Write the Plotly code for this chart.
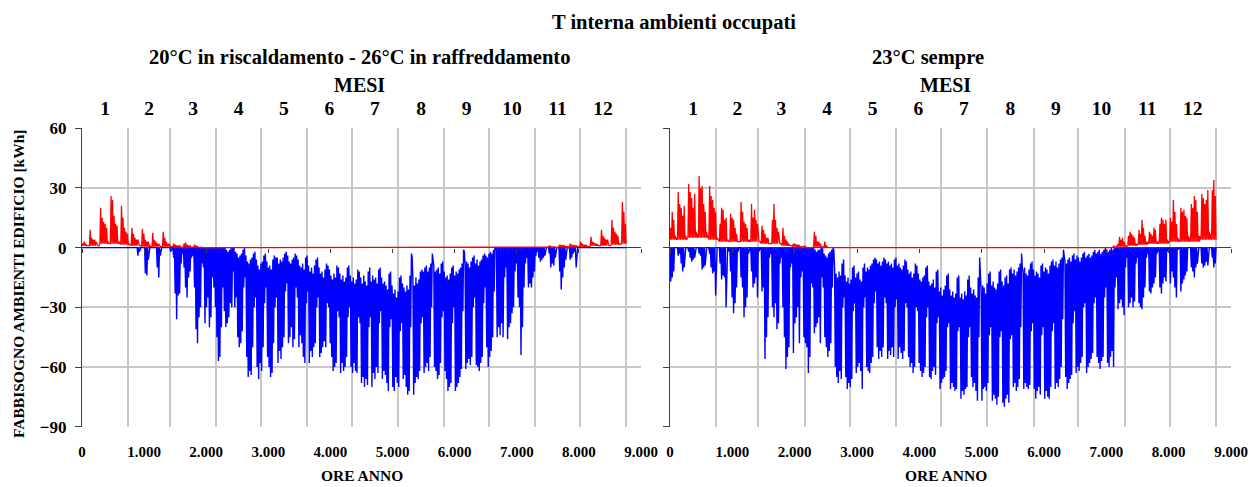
import numpy as np
import plotly.graph_objects as go

# ---------------- data ----------------
MONTH_DAYS = [31, 28, 31, 30, 31, 30, 31, 31, 30, 31, 30, 31]
MONTH_LABELS = ["1", "2", "3", "4", "5", "6", "7", "8", "9", "10", "11", "12"]
X_TICKS = [0, 1000, 2000, 3000, 4000, 5000, 6000, 7000, 8000, 9000]
X_TICK_LABELS = ["0", "1.000", "2.000", "3.000", "4.000", "5.000", "6.000", "7.000", "8.000", "9.000"]
Y_TICKS = [-90, -60, -30, 0, 30, 60]

# Daily peak values [kWh] (first line: days 1-5, then one line per week Mon-Sun)
# Panel 1: 20 C heating - 26 C cooling
HEAT_20_26 = [
    2, 3, 2, 1, 1,
    9, 5, 4, 4, 3, 1, 1,
    20, 15, 13, 12, 10, 3, 2,
    26, 24, 16, 12, 11, 3, 3,
    21, 15, 10, 8, 7, 2, 1,
    10, 7, 5, 4, 4, 1, 1,
    9.5, 7, 4, 3, 3, 1, 0.5,
    7.5, 4, 3, 2, 2, 0.5, 0.5,
    8, 5, 3, 2, 2, 0.5, 0.5,
    2, 1.5, 1, 1, 1, 0, 0,
    2, 2.5, 1.5, 1, 1, 0, 0,
    1.5, 1, 0.5, 0, 0, 0, 0,
    0, 0, 0, 0, 0, 0, 0,
    0, 0, 0, 0, 0, 0, 0,
    0, 0, 0, 0, 0, 0, 0,
    0, 0, 0, 0, 0, 0, 0,
    0, 0, 0, 0, 0, 0, 0,
    0, 0, 0, 0, 0, 0, 0,
    0, 0, 0, 0, 0, 0, 0,
    0, 0, 0, 0, 0, 0, 0,
    0, 0, 0, 0, 0, 0, 0,
    0, 0, 0, 0, 0, 0, 0,
    0, 0, 0, 0, 0, 0, 0,
    0, 0, 0, 0, 0, 0, 0,
    0, 0, 0, 0, 0, 0, 0,
    0, 0, 0, 0, 0, 0, 0,
    0, 0, 0, 0, 0, 0, 0,
    0, 0, 0, 0, 0, 0, 0,
    0, 0, 0, 0, 0, 0, 0,
    0, 0, 0, 0, 0, 0, 0,
    0, 0, 0, 0, 0, 0, 0,
    0, 0, 0, 0, 0, 0, 0,
    0, 0, 0, 0, 0, 0, 0,
    0, 0, 0, 0, 0, 0, 0,
    0, 0, 0, 0, 0, 0, 0,
    0, 0, 0, 0, 0, 0, 0,
    0, 0, 0, 0, 0, 0, 0,
    0, 0, 0, 0, 0, 0, 0,
    0, 0, 0, 0, 0, 0, 0,
    0, 0, 0, 0, 0, 0, 0,
    0, 0, 0, 0, 0, 0, 0,
    0, 0, 0, 0, 0, 0, 0,
    0, 0, 0, 0, 0, 0, 0,
    0, 0, 0, 0, 0, 0, 0,
    0, 0, 0, 0, 0, 0, 0,
    1, 0.5, 0.5, 0.5, 0.5, 0, 0,
    1.5, 1, 1, 1, 0.5, 0, 0,
    2, 1.5, 1, 1, 1, 0.5, 0.5,
    3, 2, 1.5, 1.5, 1, 0.5, 0.5,
    5.5, 3, 2.5, 2, 2, 1, 1,
    9, 6, 5, 4, 4, 1, 1,
    14, 10, 8, 7, 6, 2, 2,
    23, 18, 12,
]
# night (base) level per week
HEAT_20_26_NIGHT = [1, 1, 2, 2, 1.5, 1, 0.5, 0.5, 0.5, 0.3, 0.3, 0.2,
                    0, 0, 0, 0, 0, 0, 0, 0, 0, 0, 0, 0, 0, 0, 0, 0, 0,
                    0, 0, 0, 0, 0, 0, 0, 0, 0, 0, 0, 0, 0, 0, 0, 0,
                    0.3, 0.5, 0.5, 0.5, 1, 1, 1.5, 2]

COOL_20_26 = [
    0, 0, 0, 0, 0,
    0, 0, 0, 0, 0, 0, 0,
    0, 0, 0, 0, 0, 0, 0,
    0, 0, 0, 0, 0, 0, 0,
    0, 0, 0, 0, 0, 0, 0,
    0, 0, 0, 0, -4, -2, 0,
    0, 0, -13, -14, -6, 0, 0,
    0, 0, 0, -10, -15, -4, 0,
    0, 0, 0, 0, 0, -2, 0,
    -5, -23, -36, -24, -23, -8, -3,
    -10, -20, -25, -15, -12, -5, -4,
    -20, -41, -48, -35, -30, -8, -10,
    -38, -30, -25, -40, -35, -15, -20,
    -30, -45, -57, -55, -40, -20, -32,
    -40, -38, -35, -28, -30, -12, -30,
    -25, -45, -50, -48, -42, -20, -15,
    -55, -65, -62, -64, -50, -30, -25,
    -60, -66, -58, -62, -50, -28, -20,
    -55, -60, -65, -63, -48, -30, -25,
    -58, -52, -56, -50, -45, -22, -18,
    -48, -45, -40, -50, -46, -20, -25,
    -50, -44, -48, -55, -58, -28, -22,
    -58, -52, -55, -50, -48, -30, -25,
    -55, -53, -50, -47, -50, -28, -30,
    -48, -55, -62, -60, -58, -32, -35,
    -63, -58, -62, -60, -55, -35, -30,
    -60, -63, -58, -62, -63, -35, -38,
    -68, -65, -70, -66, -69, -40, -35,
    -70, -63, -66, -60, -63, -38, -32,
    -66, -62, -64, -68, -72, -40, -36,
    -70, -72, -65, -68, -70, -42, -38,
    -66, -64, -70, -74, -72, -40, -5,
    -74, -68, -65, -66, -62, -38, -35,
    -63, -60, -58, -62, -55, -30, -6,
    -60, -62, -66, -64, -58, -35, -32,
    -62, -66, -72, -70, -68, -38, -30,
    -72, -70, -68, -65, -61, -32, -2,
    -61, -58, -56, -59, -55, -30, -25,
    -59, -60, -62, -58, -55, -28, -20,
    -50, -60, -55, -52, -45, -22, -1,
    -45, -40, -44, -38, -45, -15, -10,
    -46, -40, -38, -33, -30, -12, -8,
    -25, -30, -54, -40, -20, -8, -5,
    -20, -18, -20, -15, -12, -4, -2,
    -5, -7, -6, -5, -4, 0, 0,
    -3, -10, -8, -9, -5, 0, 0,
    -12, -21, -15, -10, -6, 0, 0,
    -6, -5, -3, -2, -10, 0, 0,
    0, 0, 0, 0, 0, 0, 0,
    0, 0, 0, 0, 0, 0, 0,
    0, 0, 0, 0, 0, 0, 0,
    0, 0, 0, 0, 0, 0, 0,
    0, 0, 0,
]
# night (base) level per day
COOL_20_26_NIGHT = [
    0, 0, 0, 0, 0,
    0, 0, 0, 0, 0, 0, 0,
    0, 0, 0, 0, 0, 0, 0,
    0, 0, 0, 0, 0, 0, 0,
    0, 0, 0, 0, 0, 0, 0,
    0, 0, 0, 0, 0, 0, 0,
    0, 0, 0, 0, 0, 0, 0,
    0, 0, 0, 0, 0, 0, 0,
    0, 0, 0, 0, 0, 0, 0,
    0, 0, 0, 0, 0, 0, 0,
    0, 0, 0, 0, 0, 0, 0,
    0, 0, 0, 0, 0, 0, 0,
    0, 0, 0, 0, 0, 0, 0,
    0, 0, 0, 0, 0, 0, 0,
    0, -1, -2, -1, 0, 0, 0,
    -2, -3, -5, -4, -3, -1, 0,
    -4, -7, -8, -6, -5, -3, -2,
    -6, -9, -11, -8, -7, -4, -3,
    -7, -10, -9, -11, -6, -4, -5,
    -5, -8, -6, -7, -5, -3, -2,
    -4, -7, -8, -6, -5, -3, -4,
    -6, -9, -10, -8, -11, -5, -4,
    -9, -12, -10, -13, -9, -6, -5,
    -10, -13, -12, -15, -11, -8, -9,
    -11, -14, -16, -13, -15, -9, -10,
    -13, -16, -14, -17, -15, -10, -9,
    -14, -17, -15, -18, -16, -11, -12,
    -15, -18, -14, -17, -19, -12, -10,
    -17, -14, -16, -15, -18, -11, -10,
    -15, -18, -17, -19, -21, -13, -12,
    -19, -23, -21, -25, -22, -15, -14,
    -18, -20, -22, -19, -21, -14, -3,
    -17, -19, -15, -18, -16, -12, -11,
    -12, -10, -9, -12, -10, -8, -3,
    -9, -12, -11, -10, -13, -8, -7,
    -12, -15, -14, -16, -13, -10, -9,
    -14, -12, -13, -11, -10, -8, -1,
    -9, -7, -8, -10, -7, -5, -4,
    -8, -6, -9, -7, -6, -4, -3,
    -4, -5, -3, -2, -3, -1, 0,
    0, 0, 0, 0, 0, 0, 0,
    0, 0, 0, 0, 0, 0, 0,
    0, 0, 0, 0, 0, 0, 0,
    0, 0, 0, 0, 0, 0, 0,
    0, 0, 0, 0, 0, 0, 0,
    0, 0, 0, 0, 0, 0, 0,
    0, 0, 0, 0, 0, 0, 0,
    0, 0, 0, 0, 0, 0, 0,
    0, 0, 0, 0, 0, 0, 0,
    0, 0, 0, 0, 0, 0, 0,
    0, 0, 0, 0, 0, 0, 0,
    0, 0, 0, 0, 0, 0, 0,
    0, 0, 0,
]

# Panel 2: 23 C always
HEAT_23 = [
    10, 18, 14, 6, 5,
    28, 22, 20, 16, 21, 6, 5,
    32, 28, 25, 20, 27, 8, 7,
    36, 30, 31, 22, 18, 8, 6,
    31, 26, 24, 20, 18, 5, 4,
    12, 20, 19, 14, 15, 4, 3,
    17, 15, 14, 10, 7, 3, 3,
    23, 18, 13, 12, 10, 4, 4,
    22, 15, 19, 14, 12, 3, 3,
    11, 9, 7, 5, 5, 2, 2,
    14, 22, 14, 10, 8, 2, 2,
    10, 6, 4, 3, 2, 1, 1,
    2, 2, 1.5, 1.5, 1, 0, 0,
    1, 0.5, 0, 0, 0, 0, 0,
    8, 6, 3, 3, 2, 0, 0,
    3, 1, 0, 0, 0, 0, 0,
    0, 0, 0, 0, 0, 0, 0,
    0, 0, 0, 0, 0, 0, 0,
    0, 0, 0, 0, 0, 0, 0,
    0, 0, 0, 0, 0, 0, 0,
    0, 0, 0, 0, 0, 0, 0,
    0, 0, 0, 0, 0, 0, 0,
    0, 0, 0, 0, 0, 0, 0,
    0, 0, 0, 0, 0, 0, 0,
    0, 0, 0, 0, 0, 0, 0,
    0, 0, 0, 0, 0, 0, 0,
    0, 0, 0, 0, 0, 0, 0,
    0, 0, 0, 0, 0, 0, 0,
    0, 0, 0, 0, 0, 0, 0,
    0, 0, 0, 0, 0, 0, 0,
    0, 0, 0, 0, 0, 0, 0,
    0, 0, 0, 0, 0, 0, 0,
    0, 0, 0, 0, 0, 0, 0,
    0, 0, 0, 0, 0, 0, 0,
    0, 0, 0, 0, 0, 0, 0,
    0, 0, 0, 0, 0, 0, 0,
    0, 0, 0, 0, 0, 0, 0,
    0, 0, 0, 0, 0, 0, 0,
    0, 0, 0, 0, 0, 0, 0,
    0, 0, 0, 0, 0, 0, 0,
    0, 0, 0, 0, 0, 0, 0,
    0, 0, 0, 0, 0, 0, 0,
    0, 0, 0, 0, 1, 0, 1,
    2, 5.5, 4, 5, 3, 1, 1,
    6, 8, 7, 6, 5, 2, 2,
    9, 7, 14, 10, 6, 3, 3,
    8, 7, 6, 10, 9, 3, 3,
    12, 15, 14, 12, 14, 4, 3,
    15, 13, 24, 18, 12, 5, 4,
    20, 18, 19, 16, 15, 6, 5,
    22, 20, 26, 24, 18, 6, 6,
    27, 25, 22, 24, 29, 8, 7,
    29, 34, 26,
]
HEAT_23_NIGHT = [4, 4, 5, 5, 4, 3, 3, 3, 3, 2, 2, 1, 0.5, 0, 0.5, 0,
                 0, 0, 0, 0, 0, 0, 0, 0, 0, 0, 0, 0, 0,
                 0, 0, 0, 0, 0, 0, 0, 0, 0, 0, 0, 0, 0,
                 0, 0.5, 1, 1.5, 2, 2, 3, 3, 3, 4, 4]

COOL_23 = [
    -17, -15, -12, 0, 0,
    -4, -3, -8, -12, -10, 0, 0,
    -2, -5, -7, -6, -5, 0, 0,
    -3, -4, -11, -10, -9, 0, 0,
    -3, -10, -13, -12, -24, 0, 0,
    -8, -16, -14, -15, -30, 0, -2,
    -12, -25, -33, -28, -20, -2, 0,
    -15, -20, -35, -30, -25, -3, 0,
    -12, -20, -18, -15, -25, -2, -1,
    -22, -20, -56, -45, -35, -5, -3,
    -30, -35, -28, -41, -38, -8, -5,
    -30, -45, -61, -55, -50, -10, -8,
    -53, -38, -35, -30, -48, -15, -12,
    -45, -48, -50, -63, -55, -18, -20,
    -43, -40, -38, -35, -48, -15, -20,
    -45, -50, -55, -52, -48, -20, -1,
    -60, -65, -68, -62, -66, -30, -25,
    -65, -71, -68, -70, -66, -32, -28,
    -63, -60, -58, -62, -71, -30, -25,
    -60, -62, -63, -58, -55, -28, -22,
    -50, -56, -52, -55, -50, -25, -28,
    -56, -52, -54, -50, -55, -30, -26,
    -56, -50, -53, -56, -52, -28, -30,
    -55, -60, -58, -63, -60, -30, -32,
    -58, -62, -65, -63, -60, -35, -30,
    -65, -66, -62, -60, -64, -38, -35,
    -71, -68, -66, -65, -62, -40, -38,
    -71, -68, -70, -72, -71, -42, -40,
    -76, -72, -74, -71, -70, -45, -40,
    -65, -70, -68, -72, -77, -45, -16,
    -77, -71, -70, -72, -68, -44, -40,
    -77, -74, -76, -79, -75, -45, -42,
    -78, -80, -76, -74, -78, -46, -44,
    -70, -68, -72, -70, -66, -40, -10,
    -71, -68, -70, -71, -69, -42, -38,
    -71, -76, -72, -70, -74, -44, -40,
    -76, -72, -75, -76, -70, -42, -38,
    -71, -68, -70, -66, -60, -36, -4,
    -65, -71, -68, -66, -64, -38, -32,
    -63, -60, -62, -58, -55, -30, -28,
    -63, -60, -58, -56, -53, -28, -25,
    -55, -58, -61, -57, -55, -25, -20,
    -58, -60, -55, -52, -60, -20, -15,
    -31, -28, -26, -30, -34, -10, -5,
    -30, -28, -25, -30, -27, -8, -5,
    -28, -30, -31, -25, -20, -5, -3,
    -22, -23, -20, -18, -15, -3, -2,
    -20, -23, -18, -15, -17, -2, -1,
    -18, -12, -15, -20, -25, -1, 0,
    -22, -18, -16, -14, -12, 0, 0,
    -10, -12, -15, -10, -8, 0, 0,
    -8, -10, -9, -7, -9, 0, 0,
    -5, -10, -8,
]
COOL_23_NIGHT = [
    0, 0, 0, 0, 0,
    0, 0, 0, 0, 0, 0, 0,
    0, 0, 0, 0, 0, 0, 0,
    0, 0, 0, 0, 0, 0, 0,
    0, 0, 0, 0, 0, 0, 0,
    0, 0, 0, 0, 0, 0, 0,
    0, 0, 0, 0, 0, 0, 0,
    0, 0, 0, 0, 0, 0, 0,
    0, 0, 0, 0, 0, 0, 0,
    0, 0, 0, 0, 0, 0, 0,
    0, 0, 0, 0, 0, 0, 0,
    0, 0, 0, 0, 0, 0, 0,
    0, 0, 0, 0, 0, 0, 0,
    0, 0, 0, 0, 0, 0, 0,
    0, -1, -2, -1, -1, 0, 0,
    -3, -4, -5, -3, -2, -1, 0,
    -10, -13, -15, -12, -14, -8, -6,
    -14, -17, -15, -18, -16, -10, -9,
    -15, -13, -12, -16, -17, -10, -8,
    -12, -10, -11, -9, -8, -6, -5,
    -6, -8, -7, -9, -7, -5, -6,
    -8, -7, -9, -8, -10, -6, -5,
    -9, -8, -10, -11, -9, -6, -7,
    -11, -13, -12, -15, -13, -8, -9,
    -13, -16, -17, -15, -14, -10, -9,
    -17, -19, -18, -16, -20, -12, -11,
    -22, -20, -24, -21, -19, -14, -13,
    -21, -24, -22, -25, -23, -15, -14,
    -25, -23, -26, -22, -24, -16, -14,
    -20, -23, -21, -24, -25, -15, -5,
    -22, -19, -20, -23, -18, -13, -12,
    -19, -17, -20, -21, -18, -12, -11,
    -17, -19, -15, -14, -18, -11, -10,
    -13, -11, -14, -12, -10, -8, -3,
    -12, -10, -13, -14, -11, -8, -7,
    -11, -14, -12, -13, -15, -9, -8,
    -12, -10, -11, -13, -9, -7, -6,
    -9, -7, -10, -8, -6, -5, -1,
    -7, -8, -6, -5, -7, -4, -3,
    -6, -4, -5, -7, -5, -3, -2,
    -5, -4, -3, -5, -4, -2, -1,
    -3, -2, -1, -3, -2, -1, 0,
    -1, -2, -1, 0, -1, 0, 0,
    0, 0, 0, 0, 0, 0, 0,
    0, 0, 0, 0, 0, 0, 0,
    0, 0, 0, 0, 0, 0, 0,
    0, 0, 0, 0, 0, 0, 0,
    0, 0, 0, 0, 0, 0, 0,
    0, 0, 0, 0, 0, 0, 0,
    0, 0, 0, 0, 0, 0, 0,
    0, 0, 0, 0, 0, 0, 0,
    0, 0, 0, 0, 0, 0, 0,
    0, 0, 0,
]

for arr in (HEAT_20_26, COOL_20_26, HEAT_23, COOL_23, COOL_20_26_NIGHT, COOL_23_NIGHT):
    assert len(arr) == 365, len(arr)
for arr in (HEAT_20_26_NIGHT, HEAT_23_NIGHT):
    assert len(arr) == 53, len(arr)


def hourly_path(day_vals, night_vals):
    """Line alternating between the night level and each day's peak."""
    d = np.arange(len(day_vals))
    if len(night_vals) == len(day_vals):
        lo = np.asarray(night_vals, float)
    else:
        week = np.where(d < 5, 0, (d - 5) // 7 + 1)
        lo = np.asarray(night_vals, float)[week]
    hi = np.asarray(day_vals, float)
    x = np.empty(2 * len(d) + 1)
    y = np.empty_like(x)
    x[0:-1:2] = d * 24
    y[0:-1:2] = lo
    x[1::2] = d * 24 + 12
    y[1::2] = hi
    x[-1] = 24 * len(d)
    y[-1] = lo[-1]
    return x.tolist(), y.tolist()


month_hours = [m * 24 for m in MONTH_DAYS]
month_end = np.cumsum(month_hours).tolist()
month_mid = [e - h / 2 for e, h in zip(month_end, month_hours)]

# ---------------- layout geometry ----------------
W, H = 1258, 487
FONT = "Liberation Serif, Times New Roman, serif"
GRID = "#c8c8c8"
AX = "#404040"


def fx(px):
    return px / W


def fy(py):
    return 1 - py / H


XL = [fx(82), fx(641)]
XR = [fx(670), fx(1231)]
YD = [fy(426.7), fy(128.3)]
Y0 = YD[0] + (0 - (-90)) / 150 * (YD[1] - YD[0])

fig = go.Figure()
panels = [
    ("x", "y", "x2", "x3", COOL_20_26, COOL_20_26_NIGHT, HEAT_20_26, HEAT_20_26_NIGHT),
    ("x4", "y2", "x5", "x6", COOL_23, COOL_23_NIGHT, HEAT_23, HEAT_23_NIGHT),
]
for xa, ya, xtop, xzero, cool, cool_n, heat, heat_n in panels:
    cx, cy = hourly_path(cool, cool_n)
    hx, hy = hourly_path(heat, heat_n)
    fig.add_trace(go.Scatter(x=cx, y=cy, mode="lines", line=dict(color="#0000FF", width=1.4),
                             xaxis=xa, yaxis=ya, hoverinfo="skip", showlegend=False))
    fig.add_trace(go.Scatter(x=hx, y=hy, mode="lines", line=dict(color="#FF0000", width=1.3),
                             xaxis=xa, yaxis=ya, hoverinfo="skip", showlegend=False))
    # empty helper traces so that the month axis and the zero-line tick axis are drawn
    for helper in (xtop, xzero):
        fig.add_trace(go.Scatter(x=[], y=[], mode="lines", xaxis=helper, yaxis=ya,
                                 hoverinfo="skip", showlegend=False))


def bold(size):
    return dict(family=FONT, size=size, color="black", weight="bold")


def bottom_axis(domain, anchor):
    return dict(domain=domain, anchor=anchor, range=[0, 9000], tickmode="array",
                tickvals=X_TICKS, ticktext=X_TICK_LABELS, showgrid=False, zeroline=False,
                showline=False, ticks="outside", ticklen=11, tickcolor="rgba(0,0,0,0)",
                tickfont=bold(15), fixedrange=True, automargin=False)


def top_axis(over, anchor):
    return dict(overlaying=over, anchor=anchor, side="top", range=[0, 9000], tickmode="array",
                tickvals=month_mid, ticktext=MONTH_LABELS, showgrid=False, zeroline=False,
                showline=False, ticks="outside", ticklen=5, tickcolor="rgba(0,0,0,0)",
                tickfont=bold(19.5), automargin=False, fixedrange=True,
                minor=dict(tickmode="array", tickvals=month_end, showgrid=True, gridcolor=GRID,
                           gridwidth=1.5, ticks=""))


def zero_axis(over):
    return dict(overlaying=over, anchor="free", position=Y0, side="bottom", range=[0, 9000],
                tickmode="array", tickvals=X_TICKS, showticklabels=False, ticks="outside",
                ticklen=4, tickcolor=AX, tickwidth=1, showgrid=False, zeroline=False,
                showline=False, automargin=False, fixedrange=True)


def y_axis(anchor, labels):
    return dict(domain=YD, anchor=anchor, range=[-90, 60], tickmode="array", tickvals=Y_TICKS,
                showgrid=True, gridcolor=GRID, gridwidth=1.5, zeroline=True, zerolinecolor=AX,
                zerolinewidth=1, showline=True, linecolor=AX, linewidth=1.2, ticks="outside",
                ticklen=6, tickcolor=AX, showticklabels=labels, tickfont=bold(17),
                ticklabelstandoff=5, automargin=False, fixedrange=True)


fig.update_layout(
    width=W, height=H, margin=dict(l=0, r=0, t=0, b=0, autoexpand=False),
    paper_bgcolor="white", plot_bgcolor="white", showlegend=False,
    xaxis=bottom_axis(XL, "y"),
    xaxis2=top_axis("x", "y"),
    xaxis3=zero_axis("x"),
    xaxis4=bottom_axis(XR, "y2"),
    xaxis5=top_axis("x4", "y2"),
    xaxis6=zero_axis("x4"),
    yaxis=y_axis("x", True),
    yaxis2=y_axis("x4", False),
)

left_c = (XL[0] + XL[1]) / 2
right_c = (XR[0] + XR[1]) / 2
ann = [
    dict(text="T interna ambienti occupati", x=fx(674), y=fy(23), size=20.5, angle=0, ya="middle"),
    dict(text="20°C in riscaldamento - 26°C in raffreddamento", x=fx(359.5), y=fy(57), size=20.5,
         angle=0, ya="middle"),
    dict(text="23°C sempre", x=fx(928), y=fy(57), size=20.5, angle=0, ya="middle"),
    dict(text="MESI", x=left_c - fx(2), y=fy(85), size=20, angle=0, ya="middle"),
    dict(text="MESI", x=right_c - fx(5), y=fy(85), size=20, angle=0, ya="middle"),
    dict(text="ORE ANNO", x=left_c, y=fy(486), size=15.5, angle=0, ya="bottom"),
    dict(text="ORE ANNO", x=right_c - fx(5), y=fy(486), size=15.5, angle=0, ya="bottom"),
    dict(text="FABBISOGNO AMBIENTI EDIFICIO [kWh]", x=fx(18), y=fy(284), size=15.5, angle=-90,
         ya="middle"),
]
for a in ann:
    fig.add_annotation(text=a["text"], x=a["x"], y=a["y"], xref="paper", yref="paper",
                       xanchor="center", yanchor=a["ya"], showarrow=False,
                       textangle=a["angle"], font=bold(a["size"]))

fig.write_html("out.html", config={"displayModeBar": False},
               post_script="document.body.style.margin='0px';")
